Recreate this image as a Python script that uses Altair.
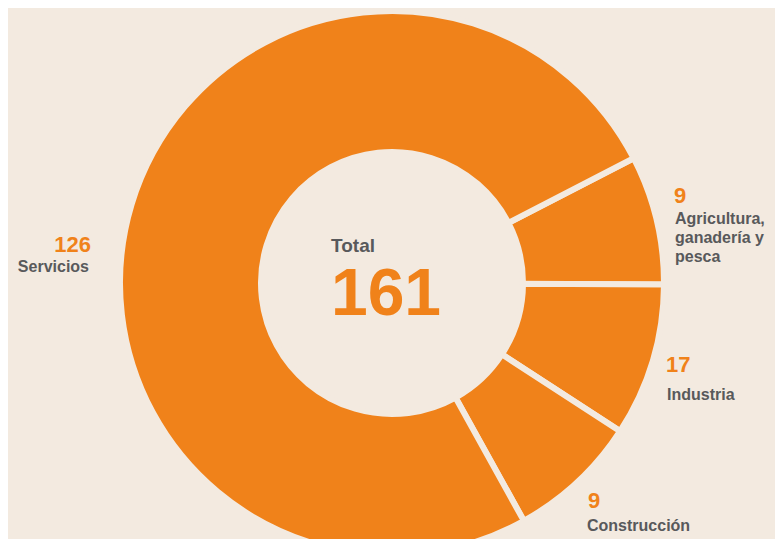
import math
import altair as alt
import pandas as pd

# ---- data ----
categories = ["Agricultura, ganadería y pesca", "Industria", "Construcción", "Servicios"]
category_lines = [["Agricultura,", "ganadería y", "pesca"], ["Industria"], ["Construcción"], ["Servicios"]]
values = [9, 17, 9, 126]
# angular size of each slice as drawn in the reference (degrees)
arc_weight = [27.6, 32.7, 28.0, 271.7]
total_label = "Total"

ORANGE = "#F0821A"
GREY = "#58595B"
BG = "#F3EAE0"
FONT = "Liberation Sans"

df = pd.DataFrame({
    "idx": list(range(len(categories))),
    "category": categories,
    "value": values,
    "weight": arc_weight,
})

start = math.radians(62.7)
cx, cy = 384, 275

donut = alt.Chart(df).mark_arc(
    radius=272, radius2=131, stroke=BG, strokeWidth=6, color=ORANGE
).encode(
    theta=alt.Theta("weight:Q", stack=True,
                    scale=alt.Scale(domain=[0, sum(arc_weight)], range=[start, start + 2 * math.pi])),
    order=alt.Order("idx:Q"),
    x=alt.value(cx),
    y=alt.value(cy),
)

# label placement (page layout), one per category
num_pos = [(666, 195, "left"), (658, 364, "left"), (580, 500, "left"), (83, 244, "right")]
cat_pos = [(667, 216, "left"), (659, 392, "left"), (579, 523, "left"), (81, 264, "right")]

layers = [donut]
for i in range(len(categories)):
    sub = df[df["idx"] == i]
    nx, ny, na = num_pos[i]
    layers.append(
        alt.Chart(sub).mark_text(
            font=FONT, fontWeight="bold", fontSize=22, color=ORANGE, align=na, baseline="alphabetic"
        ).encode(text="value:N", x=alt.value(nx), y=alt.value(ny))
    )
    lx, ly, la = cat_pos[i]
    layers.append(
        alt.Chart(pd.DataFrame({"t": [category_lines[i]]})).mark_text(
            font=FONT, fontWeight="bold", fontSize=16, color=GREY, align=la, baseline="alphabetic",
            lineHeight=19
        ).encode(text="t", x=alt.value(lx), y=alt.value(ly))
    )

center_df = pd.DataFrame({"label": [total_label], "total": [str(sum(values))]})
layers.append(
    alt.Chart(center_df).mark_text(
        font=FONT, fontWeight="bold", fontSize=19, color=GREY, align="left", baseline="alphabetic"
    ).encode(text="label:N", x=alt.value(323), y=alt.value(244))
)
layers.append(
    alt.Chart(center_df).mark_text(
        font=FONT, fontWeight="bold", fontSize=66, color=ORANGE, align="center", baseline="alphabetic"
    ).encode(text="total:N", x=alt.value(378), y=alt.value(307))
)

chart = alt.layer(*layers).properties(
    width=767, height=531, background=BG, padding=0,
    autosize=alt.AutoSizeParams(type="none"),
).configure_view(stroke=None)

chart.save("out.html", embed_options={"renderer": "svg", "actions": False})
